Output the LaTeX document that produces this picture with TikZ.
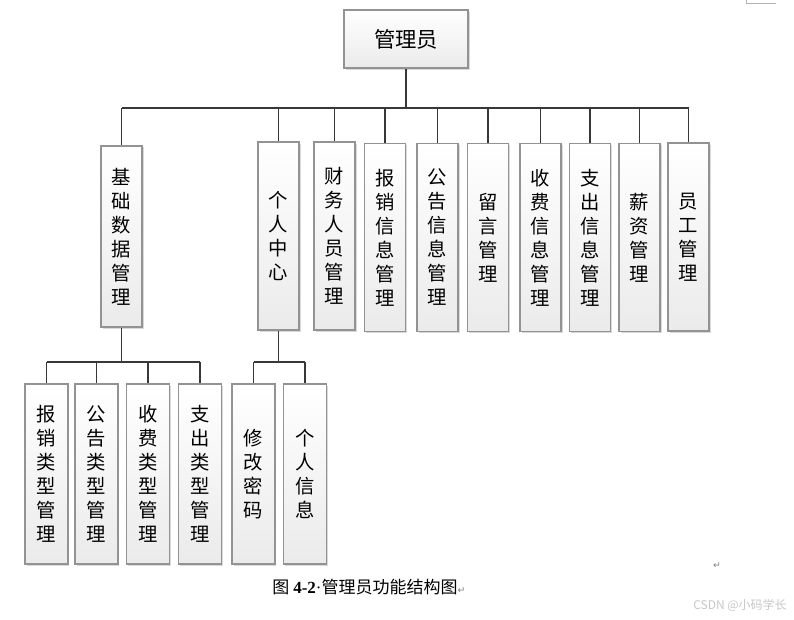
\documentclass[tikz,border=0pt]{standalone}
\usepackage{fontspec}
\newfontfamily\cjk{Noto Sans CJK SC}
\newfontfamily\symfont{DejaVu Sans}
\newfontfamily\capnum{Liberation Serif}
\usetikzlibrary{calc,shadows}

\tikzset{
  box/.style={draw=gray!85, line width=1.1pt, top color=white, bottom color=gray!16,
    inner sep=0pt, align=center, font=\cjk\fontsize{14.5}{18}\selectfont,
    drop shadow={shadow xshift=1.2pt, shadow yshift=-1.2pt, opacity=0.3}},
  topbox/.style={box, minimum width=30.75pt, minimum height=141pt},
  lowbox/.style={box, minimum width=32pt, minimum height=135pt},
  link/.style={draw=black!78, line width=1.4pt}
}

\begin{document}
\begin{tikzpicture}[x=0.75pt,y=-0.75pt]
        \useasboundingbox (0,0) rectangle (794,619);
        % Root of the tree
        \node[box, minimum width=93pt, minimum height=43.5pt, font=\cjk\fontsize{16}{18}\selectfont] (admin) at (406,39) {管理员};
        % First level
        \node[topbox, minimum height=136pt] (base) at (121.5,236.5) {基\\础\\数\\据\\管\\理};
        \node[topbox] (self) at (278.5,236) {个\\人\\中\\心};
        \node[topbox] (finance) at (334.5,236) {财\\务\\人\\员\\管\\理};
        \node[topbox] (reimb) at (385,237.5) {报\\销\\信\\息\\管\\理};
        \node[topbox] (notice) at (437.5,237.5) {公\\告\\信\\息\\管\\理};
        \node[topbox] (message) at (488,237.5) {留\\言\\管\\理};
        \node[topbox] (charge) at (540.5,237.5) {收\\费\\信\\息\\管\\理};
        \node[topbox] (expense) at (590,237.5) {支\\出\\信\\息\\管\\理};
        \node[topbox] (salary) at (639.5,237.5) {薪\\资\\管\\理};
        \node[topbox] (staff) at (688.5,237) {员\\工\\管\\理};
        % Second level
        \node[lowbox] (reimbtype) at (46.5,474) {报\\销\\类\\型\\管\\理};
        \node[lowbox] (noticetype) at (96.5,474) {公\\告\\类\\型\\管\\理};
        \node[lowbox] (chargetype) at (148,474) {收\\费\\类\\型\\管\\理};
        \node[lowbox] (expensetype) at (200,474) {支\\出\\类\\型\\管\\理};
        \node[lowbox] (password) at (253.5,474) {修\\改\\密\\码};
        \node[lowbox] (profile) at (305,474) {个\\人\\信\\息};
        % Bus lines
        \coordinate (bus) at (0,108);
        \coordinate (lowbus) at (0,362);
        \draw[link] (admin.south) -- (admin.south |- bus);
        \draw[link] (base.north |- bus) -- (staff.north |- bus);
        \foreach \n in {base,self,finance,reimb,notice,message,charge,expense,salary,staff}
          \draw[link] (\n.north |- bus) -- (\n.north);
        \draw[link] (base.south) -- (base.south |- lowbus);
        \draw[link] (reimbtype.north |- lowbus) -- (expensetype.north |- lowbus);
        \foreach \n in {reimbtype,noticetype,chargetype,expensetype}
          \draw[link] (\n.north |- lowbus) -- (\n.north);
        \draw[link] (self.south) -- (self.south |- lowbus);
        \draw[link] (password.north |- lowbus) -- (profile.north |- lowbus);
        \foreach \n in {password,profile}
          \draw[link] (\n.north |- lowbus) -- (\n.north);
        % Caption and page marks
        \node[anchor=west, inner sep=0pt, font=\cjk\fontsize{12.75}{15}\selectfont] (caption) at (272,587)
          {图\hspace{3pt}{\capnum\bfseries 4-2}{\capnum\textperiodcentered}管理员功能结构图{\symfont\fontsize{7}{8}\selectfont\color{gray}↵}};
        \node[inner sep=0pt, font=\symfont\fontsize{7}{8}\selectfont, text=gray] (mark) at (717,566) {↵};
        \node[anchor=east, inner sep=0pt, font=\cjk\fontsize{9}{11}\selectfont, text=gray!45] (watermark) at (787,605) {CSDN @小码学长};
        \coordinate (corner) at (746,3);
        \draw[gray!60, line width=0.6pt] (746,0) -- (corner) -- (776,3);
\end{tikzpicture}
\end{document}
